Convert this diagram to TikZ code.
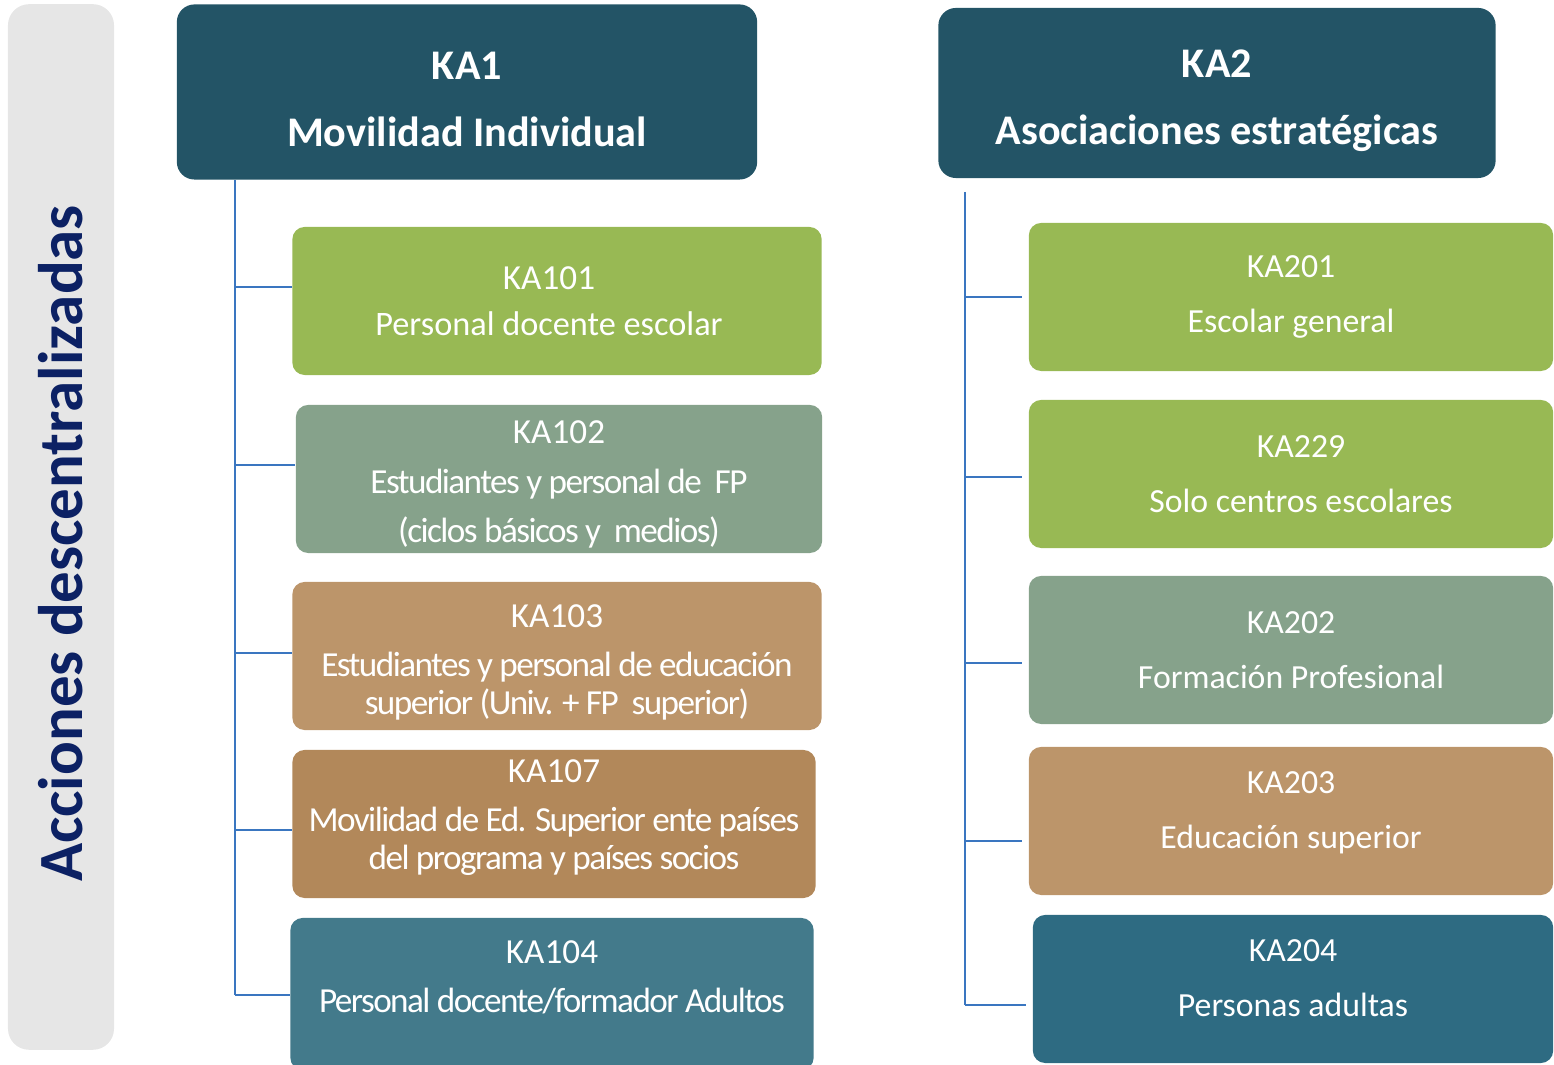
\documentclass[tikz,border=0pt]{standalone}
\usepackage{fontspec}
\setmainfont{Carlito}
\newfontfamily\tightfont[LetterSpace=-4.4]{Carlito}
\definecolor{headblue}{RGB}{35,84,102}
\definecolor{sidegray}{RGB}{230,230,230}
\definecolor{sidenavy}{RGB}{12,33,100}
\definecolor{leafgreen}{RGB}{152,185,84}
\definecolor{sagegreen}{RGB}{134,162,139}
\definecolor{sandtan}{RGB}{188,149,106}
\definecolor{browntan}{RGB}{178,136,90}
\definecolor{tealblue}{RGB}{67,122,139}
\definecolor{deepteal}{RGB}{46,107,130}
\definecolor{treeblue}{RGB}{58,118,192}
% struts to move a box text down (taller first line) or up (deeper last line)
\newcommand\sink[1]{\rule{0pt}{#1}}
\newcommand\lift[1]{\rule[-#1]{0pt}{0pt}}
\tikzset{
  head/.style={rounded corners=5pt, fill=headblue, text=white, align=center, inner sep=0pt,
    font=\fontsize{12}{19}\selectfont\bfseries},
  side/.style={rounded corners=6pt, fill=sidegray, text=sidenavy, inner sep=0pt, rotate=90,
    font=\fontsize{17.9}{20}\selectfont\bfseries},
  leftbox/.style={rounded corners=3.5pt, text=white, align=center, inner sep=0pt,
    minimum height=1.48cm, font=\fontsize{10}{14}\selectfont},
  rightbox/.style={rounded corners=3.5pt, text=white, align=center, inner sep=0pt,
    minimum height=1.48cm, font=\fontsize{9.6}{15.6}\selectfont},
  tree/.style={draw=treeblue, line width=0.7pt}
}
\begin{document}
\begin{tikzpicture}[x=0.01cm, y=-0.01cm]
    \useasboundingbox (0,0) rectangle (1554,1065);
    \node[side, minimum width=10.45cm, minimum height=1.06cm] (side) at (61,527) {Acciones descentralizadas\hspace*{0.33cm}};
    % KA1 column
    \node[head, minimum width=5.8cm, minimum height=1.75cm] (ka1) at (467,92) {\sink{12.2pt}KA1\\Movilidad Individual};
    \node[leftbox, fill=leafgreen, minimum width=5.29cm] (ka101) at (557,301) {KA101\hspace*{0.16cm}\\[-1pt]{\fontsize{9.75}{14}\selectfont Personal docente escolar}\hspace*{0.16cm}};
    \node[leftbox, fill=sagegreen, minimum width=5.26cm] (ka102) at (559,479) {\sink{9.6pt}KA102\\{\tightfont Estudiantes y personal de~ FP}\\{\tightfont (ciclos básicos y~ medios)}};
    \node[leftbox, fill=sandtan, minimum width=5.29cm] (ka103) at (557,656) {\sink{10.1pt}KA103\\{\tightfont Estudiantes y personal de educación}\\[-3.2pt]{\tightfont superior (Univ. + FP~ superior)}};
    \node[leftbox, fill=browntan, minimum width=5.23cm] (ka107) at (554,824) {KA107\\{\tightfont Movilidad de Ed. Superior ente países}\\[-3.2pt]{\tightfont del programa y países socios}\lift{5.4pt}};
    \node[leftbox, fill=tealblue, minimum width=5.23cm, minimum height=1.52cm] (ka104) at (552,994) {KA104\\{\tightfont Personal docente/formador Adultos}\lift{10pt}};
    % KA2 column
    \node[head, minimum width=5.57cm, minimum height=1.70cm] (ka2) at (1217,93) {\sink{12.2pt}KA2\\Asociaciones estratégicas};
    \node[rightbox, fill=leafgreen, minimum width=5.24cm] (ka201) at (1291,297) {KA201\\Escolar general};
    \node[rightbox, fill=leafgreen, minimum width=5.24cm] (ka229) at (1291,474) {\hspace*{0.2cm}KA229\\\hspace*{0.2cm}Solo centros escolares};
    \node[rightbox, fill=sagegreen, minimum width=5.24cm] (ka202) at (1291,650) {KA202\\Formación Profesional};
    \node[rightbox, fill=sandtan, minimum width=5.24cm] (ka203) at (1291,821) {KA203\\Educación superior\lift{6.4pt}};
    \node[rightbox, fill=deepteal, minimum width=5.20cm] (ka204) at (1293,989) {KA204\\Personas adultas\lift{6.4pt}};
    % left tree
    \coordinate (l1) at (235,287);
    \coordinate (l2) at (235,465);
    \coordinate (l3) at (235,653);
    \coordinate (l4) at (235,830);
    \coordinate (l5) at (235,995);
    \draw[tree] (ka1.south -| l1) -- (l5);
    \foreach \i/\n in {1/ka101, 2/ka102, 3/ka103, 4/ka107, 5/ka104}
        \draw[tree] (l\i) -- (l\i -| \n.west);
    % right tree
    \coordinate (r0) at (965,192);
    \coordinate (r1) at (965,297);
    \coordinate (r2) at (965,477);
    \coordinate (r3) at (965,663);
    \coordinate (r4) at (965,841);
    \coordinate (r5) at (965,1005);
    \draw[tree] (r0) -- (r5);
    \foreach \i/\n in {1/ka201, 2/ka229, 3/ka202, 4/ka203, 5/ka204}
        \draw[tree] (r\i) -- ([xshift=-0.06cm]r\i -| \n.west);
\end{tikzpicture}
\end{document}
